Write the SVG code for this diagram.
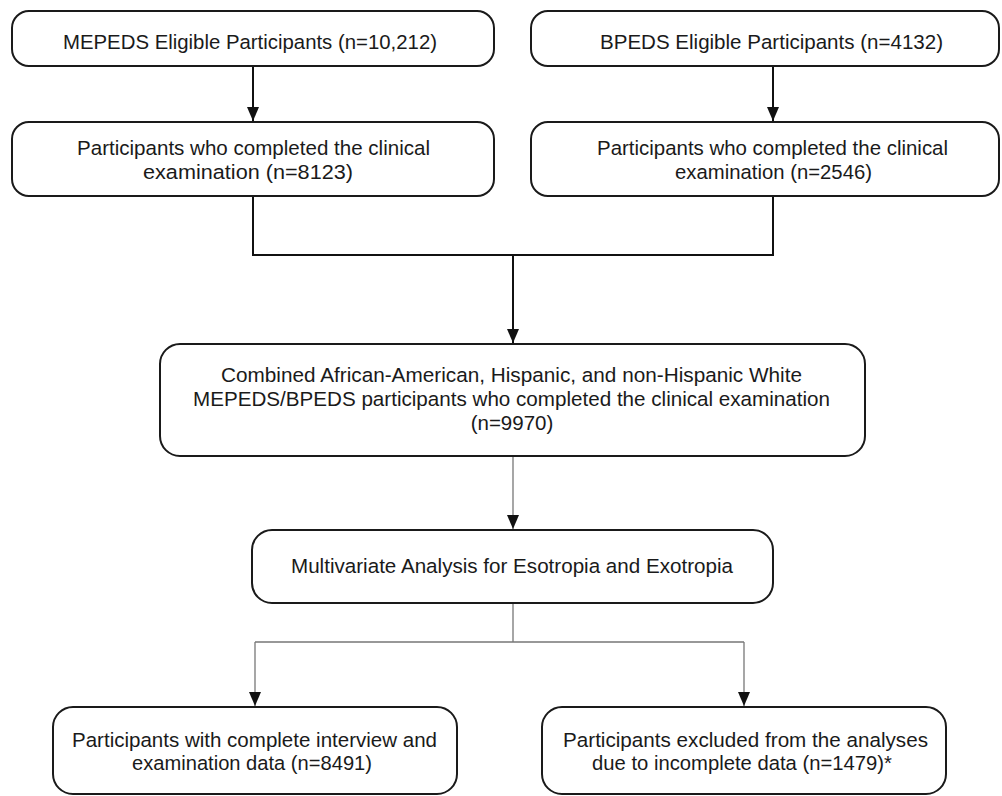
<svg xmlns="http://www.w3.org/2000/svg" width="1002" height="796" viewBox="0 0 1002 796">
<style>
.box{fill:#fff;stroke:#1a1a1a;stroke-width:2}
.t{font-family:"Liberation Sans",Arial,sans-serif;font-size:20.5px;fill:#1a1a1a}
.c{fill:none;stroke:#111;stroke-width:2}
.g{fill:none;stroke:#777;stroke-width:1.3}
</style>
<defs>
<marker id="ahd" markerUnits="userSpaceOnUse" markerWidth="12" markerHeight="14" viewBox="0 0 12 14" refX="6" refY="14" orient="0">
<path d="M0 0 L12 0 L6 14 Z" fill="#111"/>
</marker>
</defs>
<rect width="1002" height="796" fill="#fff"/>
<g id="connectors">
<path class="c" d="M253 66 V121" marker-end="url(#ahd)"/>
<path class="c" d="M773 66 V121" marker-end="url(#ahd)"/>
<path class="c" d="M253 196 V255 H773 V196"/>
<path class="c" d="M513 255 V343" marker-end="url(#ahd)"/>
<path class="g" d="M513 456 V529" marker-end="url(#ahd)"/>
<path class="g" d="M513 603 V642 M255 642 H744"/>
<path class="g" d="M255 642 V706" marker-end="url(#ahd)"/>
<path class="g" d="M744 642 V706" marker-end="url(#ahd)"/>
</g>
<g id="n1">
<rect class="box" x="12" y="11" width="482" height="55" rx="17"/>
<text class="t" x="63" y="49" textLength="374" lengthAdjust="spacingAndGlyphs">MEPEDS Eligible Participants (n=10,212)</text>
</g>
<g id="n2">
<rect class="box" x="531" y="11" width="468" height="55" rx="17"/>
<text class="t" x="600" y="49" textLength="343" lengthAdjust="spacingAndGlyphs">BPEDS Eligible Participants (n=4132)</text>
</g>
<g id="n3">
<rect class="box" x="12" y="122" width="482" height="74" rx="17"/>
<text class="t" x="77" y="155" textLength="353" lengthAdjust="spacingAndGlyphs">Participants who completed the clinical</text>
<text class="t" x="143" y="179" textLength="210" lengthAdjust="spacingAndGlyphs">examination (n=8123)</text>
</g>
<g id="n4">
<rect class="box" x="531" y="122" width="468" height="74" rx="17"/>
<text class="t" x="597" y="155" textLength="351" lengthAdjust="spacingAndGlyphs">Participants who completed the clinical</text>
<text class="t" x="675" y="179" textLength="197" lengthAdjust="spacingAndGlyphs">examination (n=2546)</text>
</g>
<g id="n5">
<rect class="box" x="160" y="344" width="705" height="112" rx="20"/>
<text class="t" x="221" y="382" textLength="581" lengthAdjust="spacingAndGlyphs">Combined African-American, Hispanic, and non-Hispanic White</text>
<text class="t" x="193" y="406" textLength="637" lengthAdjust="spacingAndGlyphs">MEPEDS/BPEDS participants who completed the clinical examination</text>
<text class="t" x="512" y="430" text-anchor="middle">(n=9970)</text>
</g>
<g id="n6">
<rect class="box" x="252" y="530" width="521" height="73" rx="20"/>
<text class="t" x="291" y="573" textLength="442" lengthAdjust="spacingAndGlyphs">Multivariate Analysis for Esotropia and Exotropia</text>
</g>
<g id="n7">
<rect class="box" x="53" y="707" width="404" height="87" rx="20"/>
<text class="t" x="72" y="747" textLength="365" lengthAdjust="spacingAndGlyphs">Participants with complete interview and</text>
<text class="t" x="132" y="770" textLength="240" lengthAdjust="spacingAndGlyphs">examination data (n=8491)</text>
</g>
<g id="n8">
<rect class="box" x="542" y="707" width="404" height="87" rx="20"/>
<text class="t" x="563" y="747" textLength="365" lengthAdjust="spacingAndGlyphs">Participants excluded from the analyses</text>
<text class="t" x="592" y="770" textLength="300" lengthAdjust="spacingAndGlyphs">due to incomplete data (n=1479)*</text>
</g>
</svg>
